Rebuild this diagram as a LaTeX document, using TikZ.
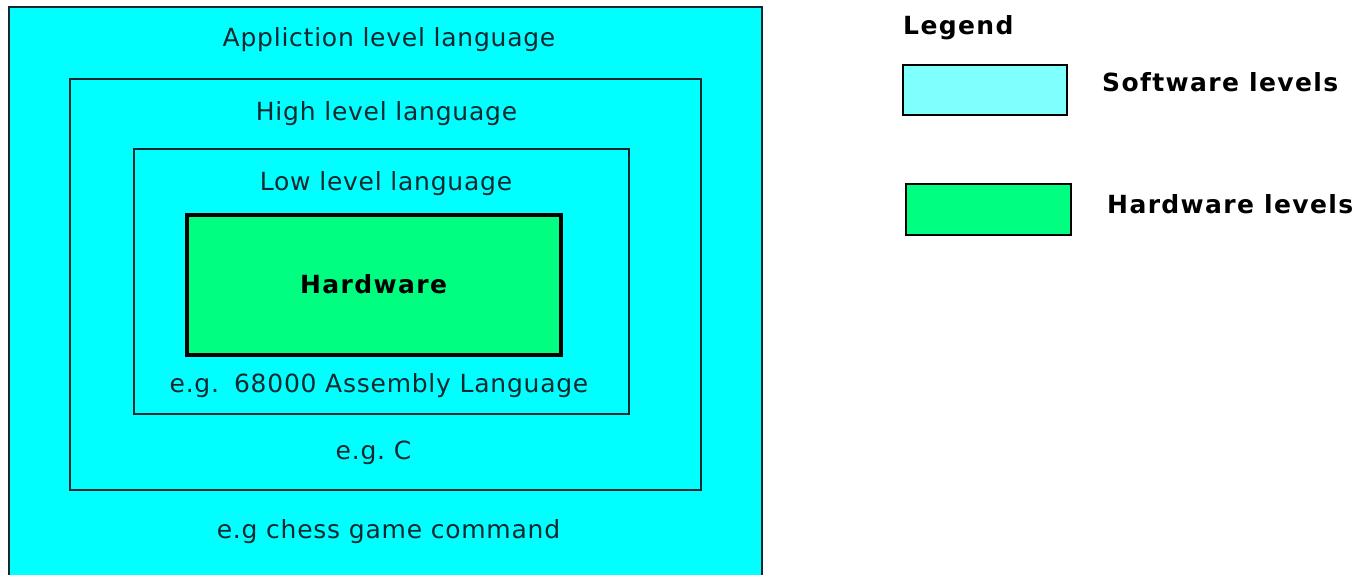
\documentclass[tikz,border=0pt]{standalone}
\usepackage{fontspec}
\setmainfont{DejaVu Sans}[LetterSpace=3,BoldFeatures={LetterSpace=5.5}]
\definecolor{softfill}{HTML}{00FFFF}
\definecolor{softlegend}{HTML}{80FFFF}
\definecolor{hardfill}{HTML}{00FF80}
\definecolor{edge}{HTML}{102830}
\begin{document}
\begin{tikzpicture}[x=1pt,y=-1pt,
  level/.style={draw=edge,line width=2pt,fill=softfill,rectangle,inner sep=0pt},
  hwbox/.style={draw=black,line width=4pt,fill=hardfill,rectangle,inner sep=0pt},
  keybox/.style={draw=black,line width=2pt,inner sep=0pt},
  lbl/.style={font=\fontsize{25}{27}\selectfont,text=edge,inner sep=0pt,anchor=base},
  boldlbl/.style={font=\fontsize{25}{27}\selectfont\bfseries,inner sep=0pt,anchor=base west}]
  \useasboundingbox (0,0) rectangle (1356,575);
  \clip (0,0) rectangle (1356,575);
  % nested levels, outermost first
  \node[level,minimum width=753pt,minimum height=600pt] (app) at (385.5,307) {};
  \node[level,minimum width=631pt,minimum height=411pt] (high) at (385.5,284.5) {};
  \node[level,minimum width=495pt,minimum height=265pt] (low) at (381.5,281.5) {};
  \node[hwbox,minimum width=374pt,minimum height=140pt] (hw) at (374,285) {};
  \node[font=\fontsize{25}{27}\selectfont\bfseries,inner sep=0pt,anchor=base] (hwtxt) at (373.5,293) {Hardware};
  % level captions
  \node[lbl] (apptop) at (389,47) {Appliction level language};
  \node[lbl] (hightop) at (386.5,121) {High level language};
  \node[lbl] (lowtop) at (386,190) {Low level language};
  \node[lbl] (lowex) at (379,392) {e.g.\hspace{0.6em}68000 Assembly Language};
  \node[lbl] (highex) at (373.5,459) {e.g.\ C};
  \node[lbl] (appex) at (388.5,538) {e.g chess game command};
  % legend
  \node[boldlbl] (legend) at (903,35) {Legend};
  \node[keybox,fill=softlegend,minimum width=164pt,minimum height=50pt] (swkey) at (985,90) {};
  \node[keybox,fill=hardfill,minimum width=165pt,minimum height=51pt] (hwkey) at (988.5,209.5) {};
  \node[boldlbl] (swtxt) at (1102,92) {Software levels};
  \node[boldlbl] (hwtxt2) at (1107,213) {Hardware levels};
\end{tikzpicture}
\end{document}
